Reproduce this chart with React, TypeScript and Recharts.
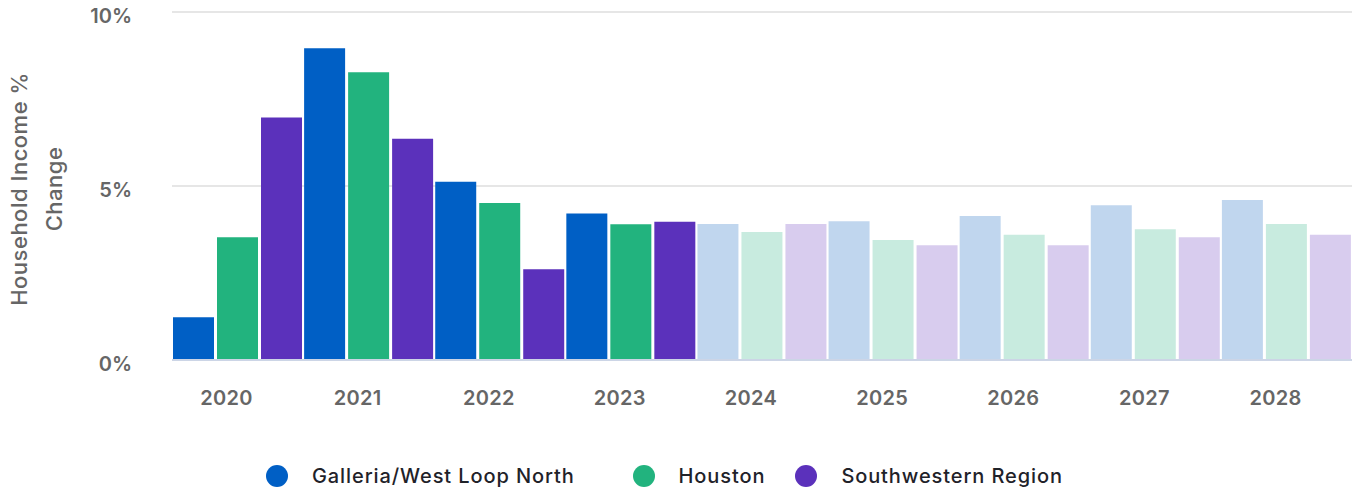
import { BarChart, Bar, XAxis, YAxis, CartesianGrid, Cell } from 'recharts';

// Household income % change, actuals 2020-2023, forecast 2024-2028
const years = ['2020', '2021', '2022', '2023', '2024', '2025', '2026', '2027', '2028'];
const galleria = [1.23, 8.96, 5.12, 4.21, 3.91, 3.99, 4.14, 4.45, 4.6];
const houston = [3.53, 8.27, 4.51, 3.9, 3.68, 3.45, 3.6, 3.76, 3.91];
const southwestern = [6.97, 6.36, 2.61, 3.97, 3.91, 3.3, 3.3, 3.53, 3.6];
const yTicks = [0, 5, 10];
const firstForecastYear = '2024';

const series = [
  { key: 'galleria', name: 'Galleria/West Loop North', color: '#005fc5', light: '#c0d6ee' },
  { key: 'houston', name: 'Houston', color: '#22b37e', light: '#c8ebdf' },
  { key: 'southwestern', name: 'Southwestern Region', color: '#5b31bb', light: '#d8ccee' },
];

const data = years.map((year, i) => ({
  year,
  galleria: galleria[i],
  houston: houston[i],
  southwestern: southwestern[i],
}));

const FONT = 'Inter, "Open Sans", sans-serif';

function YLabel({ viewBox }: any) {
  const cy = viewBox.y + viewBox.height / 2 + 3;
  return (
    <text
      transform={`rotate(-90, 20, ${cy})`}
      x={20}
      y={cy}
      textAnchor="middle"
      fill="#666"
      fontSize={22}
      fontWeight={500}
      letterSpacing={0.5}
      fontFamily={FONT}
    >
      <tspan x={20} dy={7}>Household Income %</tspan>
      <tspan x={20} dy={35}>Change</tspan>
    </text>
  );
}

function LegendRow() {
  const gaps = [0, 58, 30];
  return (
    <div
      style={{
        position: 'absolute',
        top: 464,
        left: 266,
        display: 'flex',
        alignItems: 'center',
        fontFamily: FONT,
        fontSize: 20,
        fontWeight: 500,
        letterSpacing: 0.9,
        color: '#1f2229',
      }}
    >
      {series.map((s, i) => (
        <div key={s.key} style={{ display: 'flex', alignItems: 'center', marginLeft: gaps[i] }}>
          <span
            style={{
              width: 22,
              height: 22,
              borderRadius: '50%',
              background: s.color,
              display: 'inline-block',
              marginRight: 24,
            }}
          />
          <span>{s.name}</span>
        </div>
      ))}
    </div>
  );
}

export default function App() {
  const forecastIdx = years.indexOf(firstForecastYear);
  return (
    <div style={{ position: 'absolute', top: 0, left: 0, width: 1356, height: 491, background: '#fff' }}>
      <BarChart
        width={1356}
        height={491}
        data={data}
        margin={{ top: 12, right: 4, left: 0, bottom: 91 }}
        barCategoryGap={1}
        barGap={3}
      >
        <CartesianGrid vertical={false} stroke="#e6e6e6" strokeWidth={2} />
        <XAxis
          dataKey="year"
          height={40}
          tickLine={false}
          axisLine={{ stroke: '#ccd5e6', strokeWidth: 2 }}
          tickMargin={25}
          dx={-11}
          tick={{ fill: '#666', fontSize: 20, fontWeight: 600, fontFamily: FONT, letterSpacing: 0.3 }}
        />
        <YAxis
          width={172}
          domain={[0, 10]}
          ticks={yTicks}
          tickFormatter={(v: number) => `${v}%`}
          axisLine={false}
          tickLine={false}
          tickMargin={34}
          dy={4}
          tick={{ fill: '#666', fontSize: 20, fontWeight: 600, fontFamily: FONT }}
          label={<YLabel />}
        />
        {series.map((s) => (
          <Bar key={s.key} dataKey={s.key} name={s.name} fill={s.color} isAnimationActive={false}>
            {data.map((d, i) => (
              <Cell key={d.year} fill={i >= forecastIdx ? s.light : s.color} />
            ))}
          </Bar>
        ))}
      </BarChart>
      <LegendRow />
    </div>
  );
}
